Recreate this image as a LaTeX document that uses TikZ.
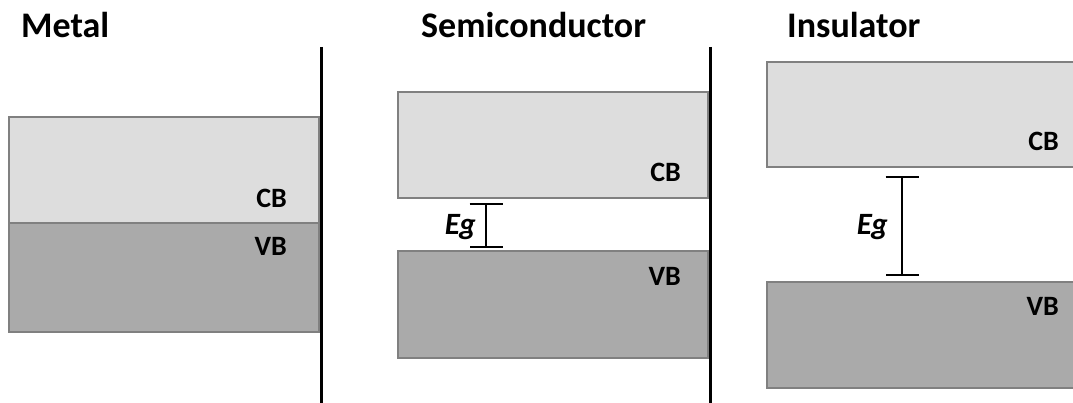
\documentclass[tikz,border=0pt]{standalone}
\usepackage{fontspec}
\setmainfont{Carlito}
\usepackage{xcolor}
\usetikzlibrary{calc,arrows.meta}
\definecolor{cbfill}{RGB}{221,221,221}
\definecolor{vbfill}{RGB}{170,170,170}
\definecolor{bandedge}{RGB}{128,128,128}

\begin{document}
\begin{tikzpicture}[x=1pt, y=-1pt,
    band/.style={draw=bandedge, line width=2pt, inner sep=0pt, minimum width=310pt},
    title/.style={font=\fontsize{36}{40}\selectfont\bfseries, anchor=base west, inner sep=0pt},
    lbl/.style={font=\fontsize{28}{32}\selectfont\bfseries, inner sep=0pt},
    gaplbl/.style={font=\fontsize{31}{34}\selectfont\bfseries\itshape, anchor=base east, inner sep=0pt},
    gapbar/.style={line width=2pt, {Bar[width=33pt]}-{Bar[width=33pt]}}]
    \useasboundingbox (0,0) rectangle (1073,403);
    % titles
    \node[title] (tmetal) at (21,38) {Metal};
    \node[title] (tsemi) at (421,38) {Semiconductor};
    \node[title] (tins) at (787,38) {Insulator};
    % separators
    \coordinate (s1top) at (321,47);
    \coordinate (s1bot) at (321,403);
    \coordinate (s2top) at (710,47);
    \coordinate (s2bot) at (710,403);
    % metal
    \node[band, fill=cbfill, minimum height=106pt] (mcb) at (164,170) {};
    \node[band, fill=vbfill, minimum height=109pt] (mvb) at (164,277.5) {};
    \node[lbl, anchor=base east] (mcbl) at ([xshift=-33pt,yshift=16pt]mcb.south east) {CB};
    \node[lbl, anchor=base east] (mvbl) at ([xshift=-33pt,yshift=-34pt]mvb.north east) {VB};
    % semiconductor
    \node[band, fill=cbfill, minimum height=106pt] (scb) at (553,145) {};
    \node[band, fill=vbfill, minimum height=107pt] (svb) at (553,304.5) {};
    \node[lbl, anchor=base east] (scbl) at ([xshift=-28pt,yshift=17pt]scb.south east) {CB};
    \node[lbl, anchor=base east] (svbl) at ([xshift=-28pt,yshift=-36pt]svb.north east) {VB};
    \coordinate (sgtop) at (486,203);
    \coordinate (sgbot) at (486,248);
    \draw[gapbar] (sgtop) -- (sgbot);
    \node[gaplbl] (sgl) at (476,235) {Eg};
    % insulator
    \node[band, fill=cbfill, minimum height=105pt] (icb) at (922,114.5) {};
    \node[band, fill=vbfill, minimum height=106pt] (ivb) at (922,335) {};
    \node[lbl, anchor=base east] (icbl) at ([xshift=-19pt,yshift=17pt]icb.south east) {CB};
    \node[lbl, anchor=base east] (ivbl) at ([xshift=-19pt,yshift=-34pt]ivb.north east) {VB};
    \coordinate (igtop) at (902,176);
    \coordinate (igbot) at (902,276);
    \draw[gapbar] (igtop) -- (igbot);
    \node[gaplbl] (igl) at (888,235) {Eg};
    \draw[line width=3pt] (s1top) -- (s1bot);
    \draw[line width=3pt] (s2top) -- (s2bot);
\end{tikzpicture}
\end{document}
